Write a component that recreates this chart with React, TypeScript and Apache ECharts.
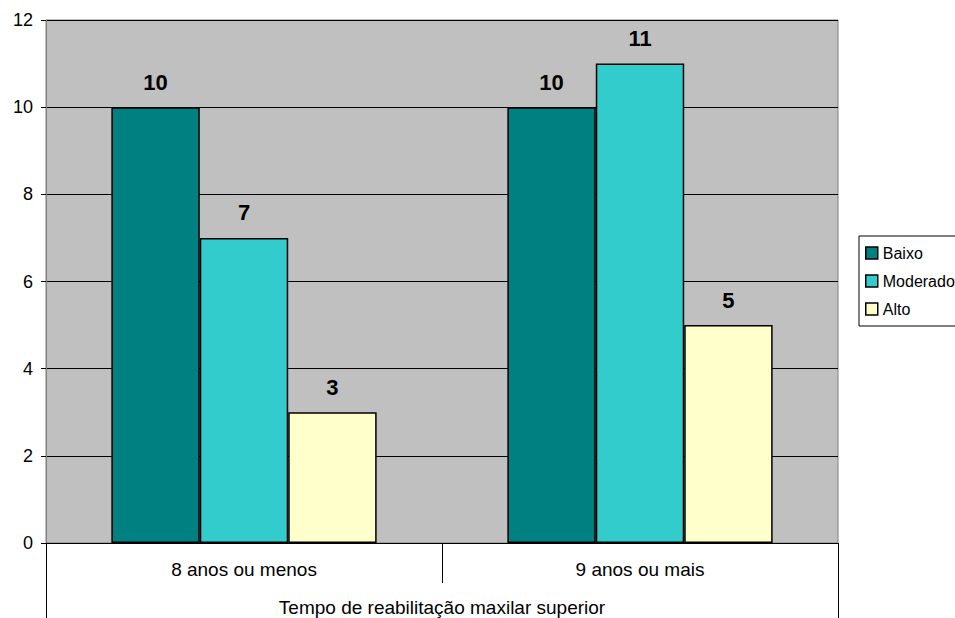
import React, { useEffect, useRef } from "react";
import * as echarts from "echarts";

const categories = ["8 anos ou menos", "9 anos ou mais"];
const groupTitle = ["Tempo de reabilitação maxilar superior"];
const seriesNames = ["Baixo", "Moderado", "Alto"];
const baixo = [10, 10];
const moderado = [7, 11];
const alto = [3, 5];
const colors = ["#008080", "#33CCCC", "#FFFFCC"];

export default function App() {
  const ref = useRef<HTMLDivElement>(null);
  useEffect(() => {
    if (!ref.current) return;
    const chart = echarts.init(ref.current, null, { renderer: "svg" });
    const font = "Arial, 'Liberation Sans', sans-serif";
    const values = [baixo, moderado, alto];
    chart.setOption({
      animation: false,
      textStyle: { fontFamily: font },
      legend: {
        orient: "vertical",
        left: 859,
        top: 236,
        padding: [9, 10, 9, 6],
        itemWidth: 12,
        itemHeight: 12,
        itemGap: 12,
        borderColor: "#000",
        borderWidth: 1,
        icon: "rect",
        itemStyle: { borderColor: "#000", borderWidth: 1.5 },
        textStyle: { fontSize: 16, color: "#000", fontFamily: font, padding: [0, 0, 0, 0] },
        data: seriesNames,
      },
      grid: {
        left: 46,
        right: 117,
        top: 20,
        bottom: 75,
        show: true,
        backgroundColor: "#C0C0C0",
        borderColor: "#808080",
        borderWidth: 1,
      },
      xAxis: [
        {
          type: "category",
          data: categories,
          position: "bottom",
          axisLine: { lineStyle: { color: "#000", width: 1 } },
          axisTick: { show: true, length: 40, lineStyle: { color: "#000" } },
          axisLabel: { fontSize: 19, color: "#000", margin: 17, fontFamily: font },
        },
        {
          type: "category",
          data: groupTitle,
          position: "bottom",
          axisLine: { show: false },
          axisTick: { show: true, length: 75, lineStyle: { color: "#000" } },
          axisLabel: { fontSize: 19, color: "#000", margin: 55, fontFamily: font },
        },
      ],
      yAxis: {
        type: "value",
        min: 0,
        max: 12,
        interval: 2,
        axisLine: { show: true, lineStyle: { color: "#808080" } },
        axisTick: { show: true, length: 5, lineStyle: { color: "#000" } },
        axisLabel: { fontSize: 18, color: "#000", margin: 13, fontFamily: font },
        splitLine: { show: true, lineStyle: { color: "#000", width: 1 } },
      },
      series: seriesNames.map((name, i) => ({
        name,
        type: "bar",
        xAxisIndex: 0,
        data: values[i],
        barGap: "0%",
        barCategoryGap: "33%",
        itemStyle: { color: colors[i], borderColor: "#000", borderWidth: 1.5 },
        label: {
          show: true,
          position: "top",
          distance: 14,
          fontSize: 22,
          fontWeight: "bold",
          color: "#000",
          fontFamily: font,
        },
      })),
    });
    return () => chart.dispose();
  }, []);
  return <div ref={ref} style={{ width: 955, height: 618, position: "absolute", left: 0, top: 0 }} />;
}
